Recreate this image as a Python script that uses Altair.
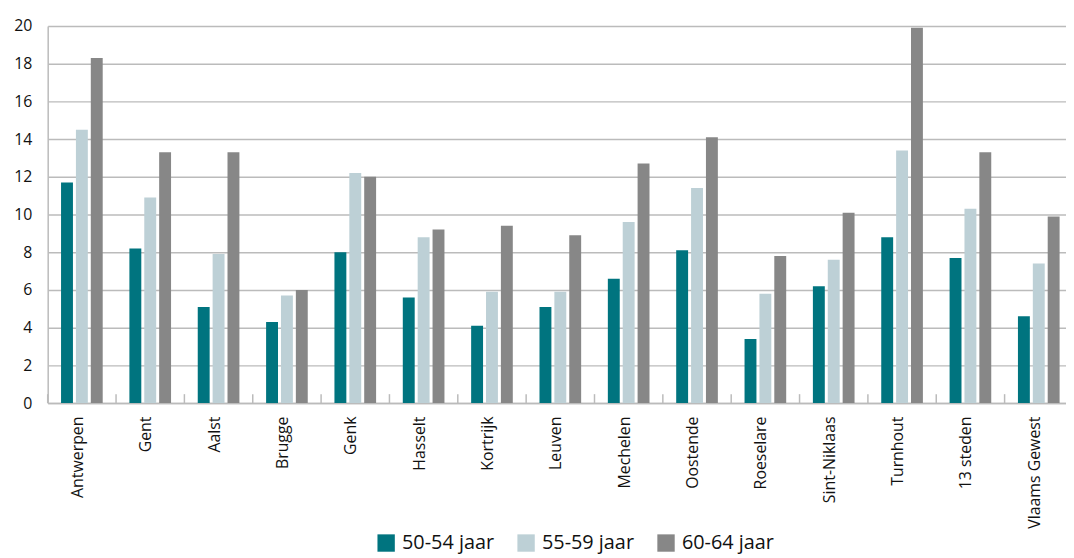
import altair as alt
import pandas as pd

cities = ["Antwerpen", "Gent", "Aalst", "Brugge", "Genk", "Hasselt", "Kortrijk",
          "Leuven", "Mechelen", "Oostende", "Roeselare", "Sint-Niklaas", "Turnhout",
          "13 steden", "Vlaams Gewest"]
groups = ["50-54 jaar", "55-59 jaar", "60-64 jaar"]
v_50_54 = [11.7, 8.2, 5.1, 4.3, 8.0, 5.6, 4.1, 5.1, 6.6, 8.1, 3.4, 6.2, 8.8, 7.7, 4.6]
v_55_59 = [14.5, 10.9, 7.9, 5.7, 12.2, 8.8, 5.9, 5.9, 9.6, 11.4, 5.8, 7.6, 13.4, 10.3, 7.4]
v_60_64 = [18.3, 13.3, 13.3, 6.0, 12.0, 9.2, 9.4, 8.9, 12.7, 14.1, 7.8, 10.1, 19.9, 13.3, 9.9]
colors = ["#00747F", "#BDD0D6", "#878787"]
y_ticks = [0, 2, 4, 6, 8, 10, 12, 14, 16, 18, 20]

rows = []
for i, c in enumerate(cities):
    for g, vals in zip(groups, [v_50_54, v_55_59, v_60_64]):
        rows.append({"city": c, "group": g, "value": vals[i]})
df = pd.DataFrame(rows)
sep_df = pd.DataFrame({"city": cities})

FONT = "Open Sans"
GRID = "#BBBBBB"
W, H = 1033, 380

xscale = alt.Scale(domain=cities, paddingInner=0, paddingOuter=0)
xaxis = alt.Axis(title=None, labelAngle=-90, labelAlign="right",
                 labelBaseline="middle", labelOffset=-4, labelPadding=13,
                 ticks=False, tickSize=0, domain=True, domainColor=GRID,
                 domainWidth=1.5, grid=False, labelFont=FONT,
                 labelFontSize=16, labelColor="#111111")

bars = alt.Chart(df).mark_bar().encode(
    x=alt.X("city:N", sort=cities, scale=xscale, axis=xaxis),
    xOffset=alt.XOffset("group:N", sort=groups,
                        scale=alt.Scale(domain=groups, paddingInner=0.2, paddingOuter=0.897)),
    y=alt.Y("value:Q", scale=alt.Scale(domain=[0, 20], nice=False),
            axis=alt.Axis(title=None, values=y_ticks, ticks=False, labelPadding=16,
                          domain=True, domainColor=GRID, domainWidth=1.5,
                          grid=True, gridColor=GRID, gridWidth=1.5,
                          labelFont=FONT, labelFontSize=16, labelColor="#111111")),
    color=alt.Color("group:N", sort=groups,
                    scale=alt.Scale(domain=groups, range=colors),
                    legend=alt.Legend(title=None, orient="none", legendX=331, legendY=511,
                                      direction="horizontal", symbolType="square",
                                      symbolSize=306, symbolStrokeWidth=0,
                                      labelFont=FONT, labelFontSize=20,
                                      labelColor="#111111", labelOffset=6,
                                      columnPadding=22, padding=0)),
)

seps = alt.Chart(sep_df).mark_rule(color=GRID, strokeWidth=1.5).encode(
    x=alt.X("city:N", sort=cities, scale=xscale, bandPosition=0, axis=xaxis),
    y=alt.value(H - 9),
    y2=alt.value(H),
)

chart = alt.layer(bars, seps).properties(
    width=W, height=H,
    autosize=alt.AutoSizeParams(type="none"),
    padding={"left": 40, "top": 16, "right": -7, "bottom": 154},
).configure_view(stroke=None)

chart.save("out.html", embed_options={"renderer": "svg", "actions": False})
